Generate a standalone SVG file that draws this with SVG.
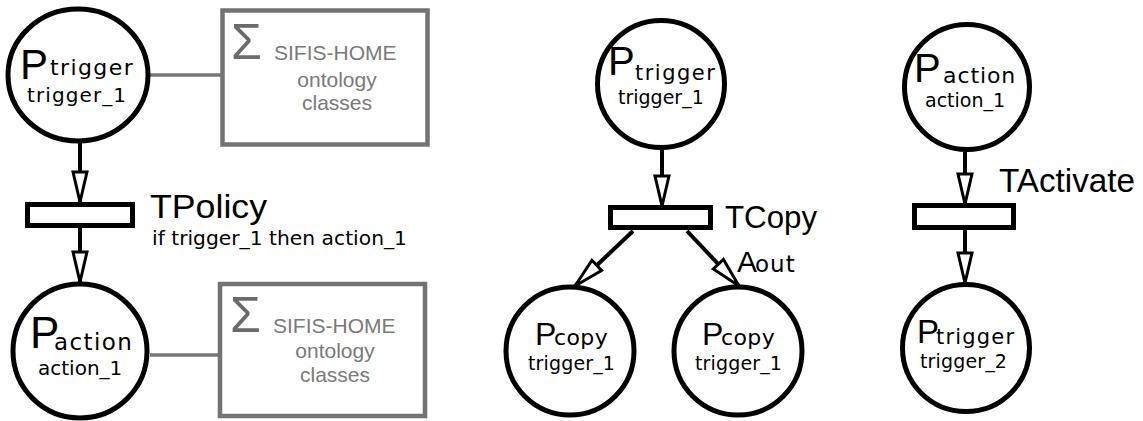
<svg xmlns="http://www.w3.org/2000/svg" width="1143" height="421" viewBox="0 0 1143 421">
<style>
.place{fill:#fff;stroke:#000;stroke-width:5}
.trans{fill:#fff;stroke:#000;stroke-width:5}
.box{fill:#fff;stroke:#737373;stroke-width:4.5}
.arc{fill:none;stroke:#000;stroke-width:4;marker-end:url(#open)}
.link{fill:none;stroke:#777;stroke-width:3.5}
.big{font-family:"Liberation Sans",Arial,sans-serif;fill:#000}
.sub{font-family:"DejaVu Sans",sans-serif;fill:#000}
.gray{font-family:"Liberation Sans",Arial,sans-serif;fill:#7a7a7a;font-size:21px}
.sigma{font-family:"Liberation Sans",Arial,sans-serif;fill:#6b6b6b;font-size:50px}
</style>
<defs>
<marker id="open" viewBox="0 0 34 18" refX="32" refY="9" markerWidth="34" markerHeight="18" markerUnits="userSpaceOnUse" orient="auto">
<path d="M2,2 L32,9 L2,16 Z" fill="#fff" stroke="#000" stroke-width="3" stroke-linejoin="miter"/>
</marker>
</defs>
<g id="connectors">
<line class="link" x1="148" y1="75" x2="222" y2="75"/>
<line class="link" x1="150" y1="355" x2="220" y2="355"/>
<line class="arc" x1="80" y1="142" x2="80" y2="202"/>
<line class="arc" x1="80" y1="228" x2="80" y2="282"/>
<line class="arc" x1="662" y1="150" x2="662" y2="206"/>
<line class="arc" x1="633" y1="231" x2="575" y2="286"/>
<line class="arc" x1="687" y1="231" x2="739" y2="286"/>
<line class="arc" x1="965" y1="152" x2="965" y2="204"/>
<line class="arc" x1="965" y1="230" x2="965" y2="283"/>
</g>
<g id="p_trigger_left">
<ellipse class="place" cx="78" cy="75" rx="70" ry="66"/>
<text class="sub"><tspan class="big" x="20" y="79" font-size="42">P</tspan><tspan x="50" y="75" font-size="22" letter-spacing="1.4">trigger</tspan><tspan x="27" y="102" font-size="20" letter-spacing="1.1">trigger_1</tspan></text>
</g>
<g id="ontology_top">
<rect class="box" x="222.5" y="10.5" width="205" height="134"/>
<text class="sigma" x="231" y="59">Σ</text>
<text class="gray"><tspan x="274" y="60">SIFIS-HOME</tspan><tspan x="337" y="87" text-anchor="middle">ontology</tspan><tspan x="337" y="110" text-anchor="middle">classes</tspan></text>
</g>
<g id="t_policy">
<rect class="trans" x="27.5" y="204.5" width="105" height="21"/>
<text class="big" x="150" y="218" font-size="34" textLength="117" lengthAdjust="spacingAndGlyphs">TPolicy</text>
<text class="sub" x="152" y="245" font-size="20" textLength="255" lengthAdjust="spacingAndGlyphs">if trigger_1 then action_1</text>
</g>
<g id="p_action_left">
<circle class="place" cx="80" cy="351" r="67"/>
<text class="sub"><tspan class="big" x="30" y="348" font-size="44">P</tspan><tspan x="54" y="350" font-size="23" letter-spacing="1.4">action</tspan><tspan x="38" y="375" font-size="20">action_1</tspan></text>
</g>
<g id="ontology_bottom">
<rect class="box" x="220" y="284" width="205" height="132"/>
<text class="sigma" x="230" y="332">Σ</text>
<text class="gray"><tspan x="273" y="333">SIFIS-HOME</tspan><tspan x="335" y="358" text-anchor="middle">ontology</tspan><tspan x="335" y="382" text-anchor="middle">classes</tspan></text>
</g>
<g id="p_trigger_mid">
<circle class="place" cx="661" cy="84" r="63.5"/>
<text class="sub"><tspan class="big" x="608" y="75" font-size="40">P</tspan><tspan x="635" y="80" font-size="21" letter-spacing="1.5">trigger</tspan><tspan x="618" y="104" font-size="19">trigger_1</tspan></text>
</g>
<g id="t_copy">
<rect class="trans" x="610.5" y="207.5" width="100" height="20"/>
<text class="big" x="725" y="228" font-size="31" textLength="92" lengthAdjust="spacingAndGlyphs">TCopy</text>
<text class="sub"><tspan class="big" x="737" y="272" font-size="30">A</tspan><tspan x="755" y="272" font-size="23" letter-spacing="1">out</tspan></text>
</g>
<g id="p_copy_left">
<circle class="place" cx="570" cy="351" r="64"/>
<text class="sub"><tspan class="big" x="535" y="345" font-size="32">P</tspan><tspan x="554" y="345" font-size="22" letter-spacing="0.4">copy</tspan><tspan x="528" y="370" font-size="19" letter-spacing="0.15">trigger_1</tspan></text>
</g>
<g id="p_copy_right">
<circle class="place" cx="738" cy="351" r="64"/>
<text class="sub"><tspan class="big" x="702" y="345" font-size="32">P</tspan><tspan x="721" y="345" font-size="22" letter-spacing="0.4">copy</tspan><tspan x="695" y="370" font-size="19" letter-spacing="0.15">trigger_1</tspan></text>
</g>
<g id="p_action_right">
<circle class="place" cx="967" cy="87" r="62.5"/>
<text class="sub"><tspan class="big" x="914" y="82" font-size="40">P</tspan><tspan x="943" y="83" font-size="22" letter-spacing="0.9">action</tspan><tspan x="925" y="107" font-size="19">action_1</tspan></text>
</g>
<g id="t_activate">
<rect class="trans" x="914.5" y="205.5" width="99" height="22"/>
<text class="big" x="999" y="192" font-size="33" textLength="136" lengthAdjust="spacingAndGlyphs">TActivate</text>
</g>
<g id="p_trigger_right">
<circle class="place" cx="966" cy="348" r="63.5"/>
<text class="sub"><tspan class="big" x="917" y="343" font-size="33">P</tspan><tspan x="936" y="344" font-size="21" letter-spacing="1.2">trigger</tspan><tspan x="920" y="368" font-size="19" letter-spacing="0.15">trigger_2</tspan></text>
</g>
</svg>
